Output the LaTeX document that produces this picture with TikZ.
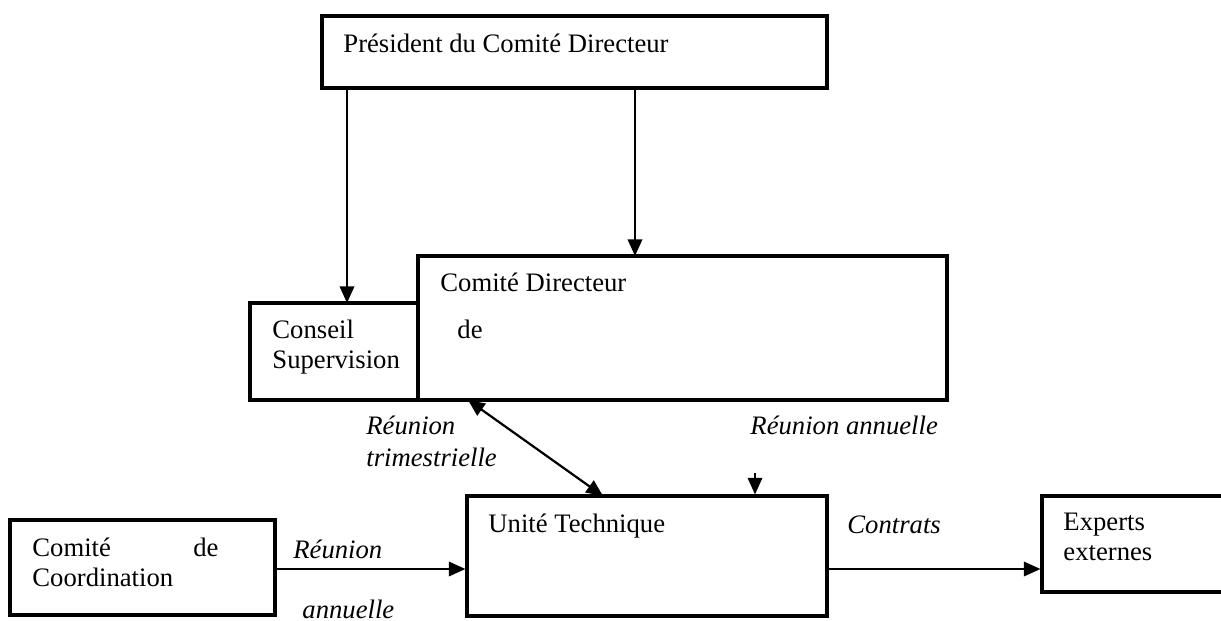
\documentclass[tikz,border=0pt]{standalone}
\usepackage{fontspec}
\setmainfont{Liberation Serif}
\usetikzlibrary{arrows.meta,fit}

\begin{document}
\begin{tikzpicture}[x=0.45pt, y=-0.45pt,
  box/.style={draw, line width=1.4pt, inner sep=0pt},
  txt/.style={anchor=base west, inner sep=0pt, font=\fontsize{12}{14}\selectfont},
  itxt/.style={txt, font=\fontsize{12}{14}\selectfont\itshape},
  arr/.style={line width=1pt, -{Triangle[length=7.5pt,width=6.5pt]}},
  darr/.style={line width=1pt, {Triangle[length=7.5pt,width=6.5pt]}-{Triangle[length=7.5pt,width=6.5pt]}}]

\useasboundingbox (0,0) rectangle (1221,621);

% boxes
\node[box, fit={(322,16) (827,88)}] (pres) {};
\node[box, fit={(418,256) (947,400)}] (cd) {};
\node[box, fit={(250,303) (418,400)}] (cs) {};
\node[box, fit={(467,496) (827,616)}] (ut) {};
\node[box, fit={(10,520) (275,615)}] (cc) {};
\node[box, fit={(1042,496) (1232,592)}] (ee) {};

% texts
\node[txt] (presT) at (343,53) {Président du Comité Directeur};
\node[txt] (cdT) at (440,292) {Comité Directeur};
\node[txt] (cdDe) at (457,339) {de};
\node[txt] (csT1) at (272,339) {Conseil};
\node[txt] (csT2) at (272,369) {Supervision};
\node[txt] (utT) at (488,532) {Unité Technique};
\node[txt] (ccT1) at (32,556) {\makebox[83.7pt][s]{Comité\hfill de}};
\node[txt] (ccT2) at (32,586) {Coordination};
\node[txt] (eeT1) at (1063,530) {Experts};
\node[txt] (eeT2) at (1063,560) {externes};

% connector labels
\node[itxt] (rt1) at (366,434) {Réunion};
\node[itxt] (rt2) at (366,466) {trimestrielle};
\node[itxt] (ra) at (750,435) {Réunion annuelle};
\node[itxt] (rc1) at (293,558) {Réunion};
\node[itxt] (rc2) at (302,618) {annuelle};
\node[itxt] (ctr) at (847,533) {Contrats};

% connector ends
\coordinate (csIn) at (347,303);
\coordinate (cdIn) at (635,256);
\coordinate (cdOut) at (468,400);
\coordinate (utIn) at (603,496);
\coordinate (raTop) at (755,473);
\coordinate (row) at (0,569);

\draw[arr] (pres.south -| csIn) -- (csIn);
\draw[arr] (pres.south -| cdIn) -- (cdIn);
\draw[darr] (cdOut) -- (utIn);
\draw[arr] (raTop) -- (ut.north -| raTop);
\draw[arr] (cc.east |- row) -- (ut.west |- row);
\draw[arr] (ut.east |- row) -- (ee.west |- row);
\end{tikzpicture}
\end{document}
